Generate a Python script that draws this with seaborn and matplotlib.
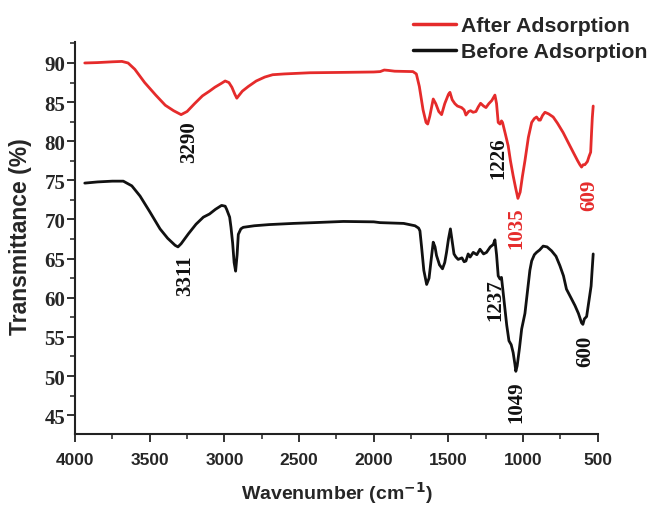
import numpy as np
import pandas as pd
import matplotlib
matplotlib.use("Agg")
import matplotlib.pyplot as plt
import seaborn as sns
from matplotlib.ticker import MultipleLocator

# FTIR spectra (wavenumber in cm^-1, transmittance in %)
after_wn = [3935, 3850, 3750, 3686, 3645, 3600, 3534, 3460, 3396, 3340, 3290, 3250,
            3200, 3147, 3100, 3064, 3020, 2995, 2970, 2950, 2930, 2917, 2905, 2880,
            2840, 2787, 2730, 2677, 2600, 2428, 2200, 2000, 1957, 1930, 1902, 1860,
            1738, 1715, 1695, 1670, 1650, 1639, 1625, 1602, 1585, 1565, 1546, 1525,
            1500, 1490, 1475, 1457, 1440, 1412, 1395, 1383, 1365, 1352, 1335, 1316,
            1300, 1285, 1265, 1249, 1230, 1210, 1189, 1178, 1167, 1155, 1145, 1138,
            1120, 1100, 1085, 1067, 1050, 1035, 1020, 1005, 988, 965, 943, 925,
            910, 895, 885, 870, 854, 830, 799, 770, 732, 700, 665, 635,
            620, 609, 598, 587, 570, 558, 548, 542, 537, 531]
after_t = [90.0, 90.05, 90.15, 90.2, 90.0, 89.2, 87.5, 85.9, 84.6, 83.9, 83.4, 83.8,
           84.8, 85.8, 86.4, 86.9, 87.4, 87.7, 87.5, 86.9, 86.0, 85.5, 85.8, 86.4,
           87.0, 87.7, 88.2, 88.5, 88.6, 88.75, 88.8, 88.85, 88.9, 89.1, 89.05, 88.95,
           88.9, 88.6, 87.0, 84.0, 82.4, 82.2, 83.2, 85.4, 84.8, 83.8, 83.4, 84.8,
           86.0, 86.25, 85.3, 84.8, 84.5, 84.3, 84.0, 83.35, 83.8, 83.9, 83.7, 83.8,
           84.4, 84.85, 84.5, 84.3, 84.8, 85.2, 85.9, 84.8, 82.4, 82.2, 82.6, 82.4,
           81.0, 79.4, 77.5, 75.6, 74.0, 72.7, 73.5, 75.5, 77.5, 80.5, 82.4, 82.9,
           83.1, 82.7, 82.7, 83.3, 83.7, 83.5, 83.1, 82.3, 81.1, 79.9, 78.6, 77.5,
           77.0, 76.7, 77.0, 77.0, 77.4, 78.1, 78.6, 81.1, 83.0, 84.5]

before_wn = [3935, 3850, 3750, 3677, 3620, 3565, 3500, 3431, 3380, 3330, 3311, 3290,
             3240, 3190, 3141, 3100, 3060, 3019, 2995, 2985, 2965, 2956, 2945, 2935,
             2925, 2915, 2907, 2890, 2874, 2800, 2700, 2539, 2400, 2204, 2000, 1958,
             1800, 1724, 1700, 1691, 1680, 1665, 1646, 1630, 1615, 1602, 1590, 1580,
             1560, 1540, 1525, 1513, 1500, 1487, 1475, 1463, 1450, 1435, 1410, 1395,
             1383, 1368, 1355, 1334, 1310, 1289, 1265, 1245, 1220, 1200, 1189, 1178,
             1167, 1155, 1145, 1130, 1110, 1095, 1080, 1067, 1055, 1049, 1040, 1025,
             1010, 988, 970, 955, 943, 925, 910, 890, 866, 840, 810, 780,
             754, 730, 710, 680, 653, 630, 609, 600, 590, 575, 558, 545, 540, 531]
before_t = [74.65, 74.8, 74.9, 74.9, 74.3, 73.0, 71.0, 68.8, 67.6, 66.7, 66.5, 66.9,
            68.2, 69.4, 70.3, 70.7, 71.3, 71.8, 71.7, 71.3, 70.3, 69.0, 67.0, 64.5,
            63.4, 65.5, 68.1, 68.8, 69.0, 69.2, 69.35, 69.5, 69.6, 69.75, 69.7, 69.6,
            69.5, 69.2, 68.9, 68.55, 66.5, 63.5, 61.7, 62.5, 65.0, 67.1, 66.5, 65.4,
            64.2, 63.7, 64.5, 65.8, 67.5, 68.8, 67.2, 65.6, 65.2, 64.9, 65.1, 64.6,
            64.7, 65.6, 65.2, 65.8, 65.5, 66.2, 65.6, 65.8, 66.5, 66.8, 67.4, 65.5,
            62.8, 62.4, 62.6, 60.0, 56.5, 54.5, 54.0, 53.0, 51.5, 50.6, 51.3, 53.5,
            56.0, 58.0, 61.0, 63.5, 64.7, 65.5, 65.8, 66.1, 66.6, 66.5, 66.0, 65.3,
            64.1, 62.8, 61.1, 60.0, 59.0, 58.0, 56.8, 56.6, 57.3, 57.6, 59.8, 61.5, 63.0, 65.6]

series_names = ["After Adsorption", "Before Adsorption"]
series_colors = ["#e52b2b", "#111111"]

# peak labels: text, x, y, colour
peak_labels = [
    ("3290", 3237, 80.0, "#111111"),
    ("3311", 3264, 63.0, "#111111"),
    ("1226", 1169, 78.0, "#111111"),
    ("1035", 1042, 69.0, "#e52b2b"),
    ("609", 560, 73.25, "#e52b2b"),
    ("1237", 1189, 59.8, "#111111"),
    ("1049", 1042, 46.8, "#111111"),
    ("600", 586, 53.3, "#111111"),
]

df = pd.concat([
    pd.DataFrame({"wn": after_wn, "T": after_t, "sample": series_names[0]}),
    pd.DataFrame({"wn": before_wn, "T": before_t, "sample": series_names[1]}),
])

sns.set_theme(style="ticks")
plt.rcParams["font.family"] = ["Liberation Sans", "DejaVu Sans"]

fig = plt.figure(figsize=(6.47, 5.06), dpi=100)
ax = fig.add_axes([0.116, 0.140, 0.808, 0.775])

sns.lineplot(data=df, x="wn", y="T", hue="sample", hue_order=series_names,
             palette=series_colors, sort=False, estimator=None, linewidth=2.0,
             ax=ax, legend=True)

ax.set_xlim(4000, 500)
ax.set_ylim(42.57, 92.68)
ax.xaxis.set_major_locator(MultipleLocator(500))
ax.xaxis.set_minor_locator(MultipleLocator(250))
ax.yaxis.set_major_locator(MultipleLocator(5))
ax.yaxis.set_minor_locator(MultipleLocator(2.5))
ax.set_yticks(np.arange(45, 91, 5))

sns.despine(ax=ax)
for s in ["left", "bottom"]:
    ax.spines[s].set_linewidth(1.5)
    ax.spines[s].set_color("#222222")

ax.tick_params(axis="both", which="major", length=6, width=1.3, color="#222222")
ax.tick_params(axis="both", which="minor", length=3.5, width=1.1, color="#222222")
ax.tick_params(axis="x", which="major", pad=7)
ax.tick_params(axis="y", which="major", pad=1)

for lab in ax.get_xticklabels():
    lab.set_fontfamily("Liberation Sans")
    lab.set_fontweight("bold")
    lab.set_fontsize(12.5)
for lab in ax.get_yticklabels():
    lab.set_fontfamily("Liberation Serif")
    lab.set_fontweight("bold")
    lab.set_fontsize(15)

ax.set_xlabel("Wavenumber (cm$^{\\mathbf{-1}}$)", fontsize=14, fontweight="bold")
ax.set_ylabel("Transmittance (%)", fontsize=16.5, fontweight="bold")
ax.xaxis.set_label_coords(0.5, -0.115)
ax.yaxis.set_label_coords(-0.082, 0.505)

for text, x, y, c in peak_labels:
    ax.text(x, y, text, rotation=90, ha="center", va="center", color=c,
            fontfamily="Liberation Serif", fontweight="bold", fontsize=15)

leg = ax.legend(loc="upper left", bbox_to_anchor=(0.622, 0.987),
                bbox_transform=fig.transFigure, frameon=False,
                prop={"family": "Liberation Sans", "weight": "bold", "size": 15.3},
                handlelength=2.0, handletextpad=0.25, borderpad=0, labelspacing=0.33)
for line in leg.get_lines():
    line.set_linewidth(2.5)

fig.savefig("out.png", dpi=100)
